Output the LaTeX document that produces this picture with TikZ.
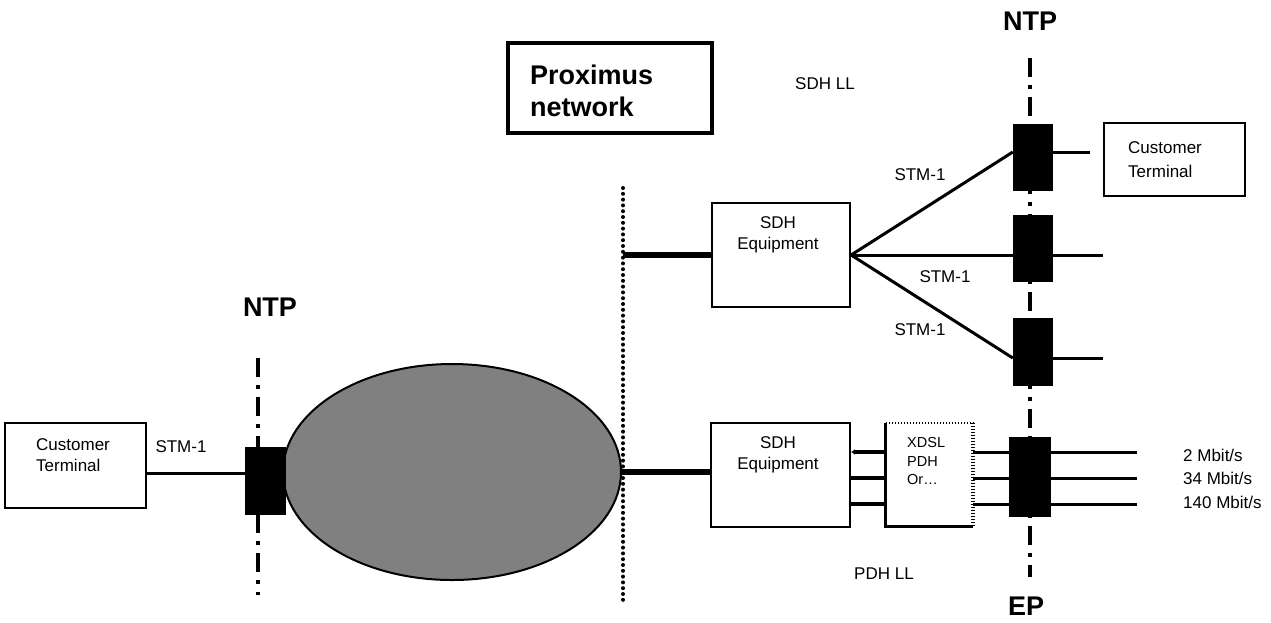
\documentclass[tikz,border=0pt]{standalone}
\usepackage{fontspec}
\setmainfont{Liberation Sans}
\usetikzlibrary{shapes.geometric,arrows.meta}
\begin{document}
\begin{tikzpicture}[x=1pt,y=-1pt,
  box/.style={draw,line width=2.2pt,inner sep=0pt},
  blk/.style={fill=black,inner sep=0pt},
  txt/.style={font=\fontsize{17}{21}\selectfont,inner sep=0pt,align=center},
  ltxt/.style={font=\fontsize{17}{21}\selectfont,inner sep=0pt,align=left,anchor=west},
  small/.style={font=\fontsize{14.5}{18.5}\selectfont,inner sep=0pt,align=left,anchor=west},
  big/.style={font=\fontsize{27}{32}\selectfont\bfseries,inner sep=0pt},
  conn/.style={line width=3pt},
  heavyconn/.style={line width=6pt},
  ntpline/.style={line width=4pt,dash pattern=on 19pt off 8pt on 4pt off 8pt},
  dotline/.style={line width=4pt,line cap=round,dash pattern=on 0pt off 5.8pt},
]
\useasboundingbox (0,0) rectangle (1271,622);
\fill[white] (0,0) rectangle (1271,622);

% dash-dot NTP lines
\coordinate (l1top) at (258,358);
\coordinate (l1bot) at (258,595);
\draw[ntpline] (l1top) -- (l1bot);
\coordinate (r1top) at (1030,58);
\coordinate (r1bot) at (1030,577);
\draw[ntpline] (r1top) -- (r1bot);

% dotted boundary
\coordinate (dtop) at (623,188);
\coordinate (dbot) at (623,601);
\draw[dotline] (dtop) -- (dbot);

% ellipse network
\node[ellipse,draw,line width=2pt,fill=black!50,minimum width=338pt,minimum height=216pt,inner sep=0pt] (net) at (452,472) {};

% boxes
\node[box,minimum width=141pt,minimum height=85pt] (ct1) at (75.5,465.5) {};
\node[ltxt] (ct1t) at (36,455.5) {Customer\\Terminal};
\node[box,minimum width=141pt,minimum height=73pt] (ct2) at (1174.5,159.5) {};
\node[ltxt,font=\fontsize{17}{24}\selectfont] (ct2t) at (1128,159.5) {Customer\\Terminal};
\node[box,minimum width=138pt,minimum height=104pt] (sdh1) at (781,255) {};
\node[txt] (sdh1t) at (778,235) {SDH\\Equipment};
\node[box,minimum width=139pt,minimum height=104pt] (sdh2) at (780.5,475) {};
\node[txt] (sdh2t) at (778,455) {SDH\\Equipment};
\node[draw,line width=3.5pt,minimum width=204pt,minimum height=90pt,inner sep=0pt] (prox) at (610,88) {};
\node[big,align=left,anchor=west,font=\fontsize{27}{32}\selectfont\bfseries] (proxt) at (530,91) {Proximus\\network};

% XDSL box with mixed borders
\node[minimum width=87pt,minimum height=103pt,inner sep=0pt] (xdsl) at (929.5,474.5) {};
\draw[line width=3pt] (xdsl.north west) -- (xdsl.south west) -- (xdsl.south east);
\draw[line width=1.5pt,dash pattern=on 1.5pt off 1.5pt] (xdsl.north west) -- (xdsl.north east);
\draw[line width=3.5pt,dash pattern=on 1.5pt off 1.5pt] (xdsl.north east) -- (xdsl.south east);
\node[small] (xdslt) at (907,461) {XDSL\\PDH\\Or…};

% NTP / EP blocks
\node[blk,minimum width=41pt,minimum height=68pt] (ntp1) at (265.5,481) {};
\node[blk,minimum width=40pt,minimum height=67pt] (nr1) at (1033,157.5) {};
\node[blk,minimum width=40pt,minimum height=67pt] (nr2) at (1033,248.5) {};
\node[blk,minimum width=40pt,minimum height=68pt] (nr3) at (1033,352) {};
\node[blk,minimum width=42pt,minimum height=80pt] (ep) at (1030,477) {};

% connectors left
\draw[conn] ([yshift=-7.5pt]ct1.east) -- ([yshift=-7.5pt]ct1.east -| ntp1.west);
\draw[heavyconn] (net.east) -- (net.east -| sdh2.west);
\draw[heavyconn] (sdh1.west -| dtop) -- (sdh1.west);

% fan
\draw[conn] (sdh1.east) -- ([yshift=5.5pt]nr1.west);
\draw[conn] (sdh1.east) -- (sdh1.east -| nr2.west);
\draw[conn] (sdh1.east) -- ([yshift=-6pt]nr3.west);
\coordinate (o1) at (1090,152);
\coordinate (o2) at (1103,255);
\coordinate (o3) at (1103,358);
\draw[conn] (o1 -| nr1.east) -- (o1);
\draw[conn] (o2 -| nr2.east) -- (o2);
\draw[conn] (o3 -| nr3.east) -- (o3);

% lower path lines
\draw[line width=3.5pt,-{Latex[length=4pt,width=6pt]}] (xdsl.west |- 0,452) -- (sdh2.east |- 0,452);
\draw[line width=3.5pt] (xdsl.west |- 0,478) -- (sdh2.east |- 0,478);
\draw[line width=3.5pt] (xdsl.west |- 0,504) -- (sdh2.east |- 0,504);
\coordinate (e1) at (1137,452);
\coordinate (e2) at (1137,478);
\coordinate (e3) at (1137,504);
\draw[conn] (xdsl.east |- e1) -- (ep.west |- e1);
\draw[conn] (xdsl.east |- e2) -- (ep.west |- e2);
\draw[conn] (xdsl.east |- e3) -- (ep.west |- e3);
\draw[conn] (ep.east |- e1) -- (e1);
\draw[conn] (ep.east |- e2) -- (e2);
\draw[conn] (ep.east |- e3) -- (e3);

% labels
\node[big] (ntpL) at (270,307) {NTP};
\node[big] (ntpR) at (1030,21) {NTP};
\node[big] (epL) at (1026,606) {EP};
\node[txt] (stm0) at (181,447) {STM-1};
\node[txt] (stm1) at (920,175) {STM-1};
\node[txt] (stm2) at (945,277) {STM-1};
\node[txt] (stm3) at (920,330) {STM-1};
\node[ltxt] (sdhll) at (795,84) {SDH LL};
\node[txt] (pdhll) at (884,574) {PDH LL};
\node[ltxt] (r1) at (1183,455) {2 Mbit/s};
\node[ltxt] (r2) at (1183,478) {34 Mbit/s};
\node[ltxt] (r3) at (1183,502) {140 Mbit/s};
\end{tikzpicture}
\end{document}
